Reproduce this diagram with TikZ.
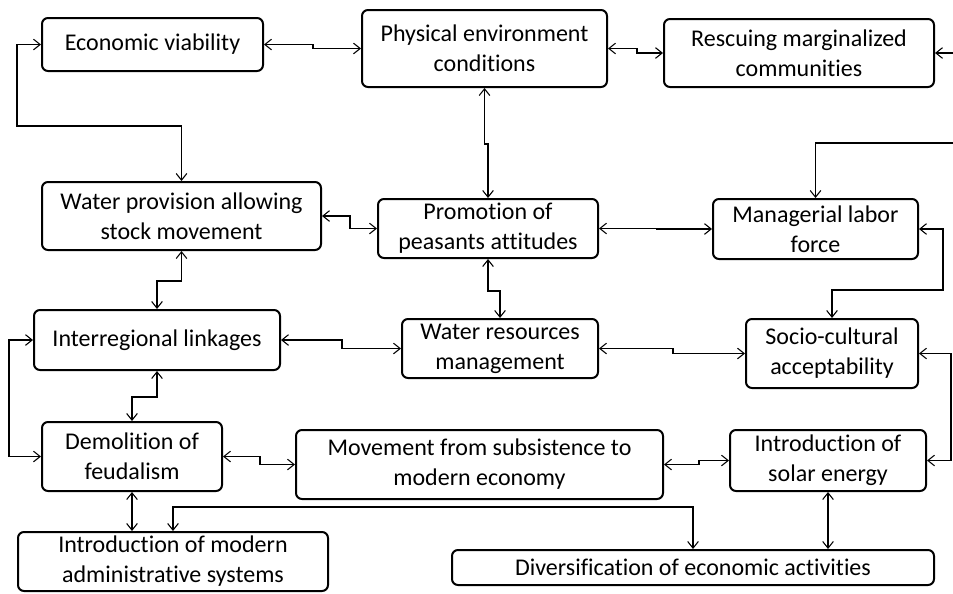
\documentclass[tikz,border=0pt]{standalone}
\usepackage{fontspec}
\setmainfont{Carlito}[Ligatures=NoCommon]
\usetikzlibrary{arrows.meta}

\def\unit{0.75pt}

\tikzset{
  box/.style={draw, line width=1.5pt, rounded corners=4.5pt, align=center,
    inner sep=0pt, font=\fontsize{18}{22.5}\selectfont},
  link/.style={line width=0.8pt,
    {Straight Barb[length=5pt,width=8pt]}-{Straight Barb[length=5pt,width=8pt]}},
  feed/.style={line width=0.8pt, -{Straight Barb[length=5pt,width=8pt]}}
}

\begin{document}
\begin{tikzpicture}[x=\unit, y=-\unit]
    \useasboundingbox (0,0) rectangle (953,593);
    \foreach \name/\x/\y/\w/\h/\txt in {
        econ/152.5/44.5/221/53/{Economic viability},
        phys/484.5/48.5/245/77/{Physical environment\\conditions},
        resc/799/53/270/68/{Rescuing marginalized\\communities},
        water/181.5/216/279/68/{Water provision allowing\\stock movement},
        promo/488/228.5/220/59/{Promotion of\\peasants attitudes},
        manag/815.5/229/205/60/{Managerial labor\\force},
        inter/157/340/246/60/{Interregional linkages},
        wres/500/348.5/196/59/{Water resources\\management},
        socio/832/353.5/172/69/{Socio-cultural\\acceptability},
        demol/132/456.5/180/69/{Demolition of\\feudalism},
        move/479.5/464.5/367/69/{Movement from subsistence to\\modern economy},
        solar/828/460.5/196/61/{Introduction of\\solar energy},
        admin/173/561.5/310/59/{Introduction of modern\\administrative systems},
        divers/693/567.5/482/35/{Diversification of economic activities}} {
      \node[box, minimum width=\w*\unit, minimum height=\h*\unit] (\name) at (\x,\y) {\txt};
    }
    \coordinate (rin) at (953,53);
    \coordinate (min) at (953,143);

    \draw[link] (econ.east) -- ++(49,0) |- (phys.west);
    \draw[link] (phys.east) -- ++(29,0) |- (resc.west);
    \draw[feed] (rin) -- (resc.east);
    \draw[link] (econ.west) -- ++(-24,0) -- ++(0,81.5) -| (water.north);
    \draw[link] (phys.south) -- ++(0,56) -| (promo.north);
    \draw[feed] (min) -| (manag.north);
    \draw[link] (water.east) -- ++(28,0) |- (promo.west);
    \draw[link] (promo.east) -- ++(58,0) |- (manag.west);
    \draw[link] (water.south) -- ++(0,30) -| (inter.north);
    \draw[link] (promo.south) -- ++(0,32) -| (wres.north);
    \draw[link] (manag.east) -- ++(24,0) -- ++(0,61) -| (socio.north);
    \draw[link] (inter.east) -- ++(61,0) |- (wres.west);
    \draw[link] (wres.east) -- ++(74,0) |- (socio.west);
    \draw[link] (inter.west) -- ++(-24,0) |- (demol.west);
    \draw[link] (socio.east) -- ++(32,0) |- (solar.east);
    \draw[link] (inter.south) -- ++(0,26) -| (demol.north);
    \draw[link] (demol.east) -- ++(37,0) |- (move.west);
    \draw[link] (move.east) -- ++(35,0) |- (solar.west);
    \draw[link] (demol.south) -- (demol.south |- admin.north);
    \draw[link] (solar.south) -- (solar.south |- divers.north);
    \draw[link] (admin.north) -- ++(0,-24) -| (divers.north);
\end{tikzpicture}
\end{document}
